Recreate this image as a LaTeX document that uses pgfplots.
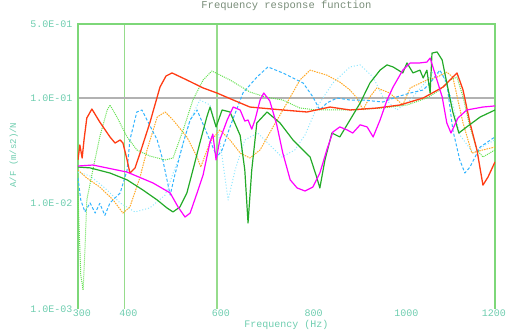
\documentclass[border=0pt]{standalone}
\usepackage{pgfplots}
\pgfplotsset{compat=1.18}
\usepackage{fontspec}
\setmainfont{Liberation Mono}
\definecolor{frm}{RGB}{125,215,120}
\definecolor{grd}{RGB}{150,220,140}
\definecolor{lab}{RGB}{110,205,175}
\definecolor{ttl}{RGB}{120,140,120}
\definecolor{cred}{RGB}{255,60,20}
\definecolor{cgrn}{RGB}{35,170,40}
\definecolor{cmag}{RGB}{255,0,255}
\definecolor{clgr}{RGB}{100,225,80}
\definecolor{cblu}{RGB}{50,180,255}
\definecolor{corg}{RGB}{255,170,40}
\definecolor{ccya}{RGB}{140,230,255}
\begin{document}
\begin{tikzpicture}
\begin{axis}[at={(0,0)}, anchor=south west, scale only axis,
  width=417pt, height=285pt,
  xmin=300, xmax=1200, ymode=log, ymin=1e-3, ymax=0.5,
  xtick={300,400,600,800,1000},
  xticklabels={300,400,600,800,1000},
  extra x ticks={1200},
  extra x tick labels={1200},
  extra x tick style={xticklabel style={xshift=-5pt}},
  ytick={1e-3,1e-2,1e-1,0.5},
  yticklabels={1.0E-03,1.0E-02,1.0E-01,5.0E-01},
  major tick length=0pt, minor tick length=0pt,
  axis line style={draw=none},
  tick style={draw=none},
  ticklabel style={font=\fontsize{10}{12}\selectfont, text=lab},
  xticklabel style={inner sep=1pt, xshift=4pt},
  yticklabel style={inner sep=1pt, xshift=-4.5pt},
  title={Frequency response function},
  title style={at={(rel axis cs:0.5,1)}, anchor=center, yshift=12pt,
    font=\fontsize{10.5}{12}\selectfont, text=ttl},
  xlabel={Frequency (Hz)},
  xlabel style={at={(rel axis cs:0.5,0)}, anchor=center, yshift=-16pt,
    font=\fontsize{10}{12}\selectfont, text=lab},
  ylabel={A/F (m/s2)/N},
  ylabel style={at={(rel axis cs:-0.154,0.54)}, anchor=center,
    font=\fontsize{9}{11}\selectfont, text=lab},
  clip mode=individual,
  every axis plot/.append style={mark=none, line join=round},
]
% grid and frame
\draw[grd, line width=1.6pt] (axis cs:400,1e-3) -- (axis cs:400,0.5);
\draw[grd, line width=1.6pt] (axis cs:600,1e-3) -- (axis cs:600,0.5);
\draw[gray!60, line width=2.2pt] (axis cs:300,0.1) -- (axis cs:1200,0.1);
\draw[frm, line width=1.4pt] (rel axis cs:0,0) -- (rel axis cs:0,1) -- (rel axis cs:1,1) -- (rel axis cs:1,0);

% pale cyan dotted
\addplot[ccya, line width=1pt, dotted] coordinates {
(300,0.0198) (326,0.0182) (358,0.014) (391,0.0101) (423,0.0083) (455,0.00906)
(488,0.0120) (516,0.0258) (542,0.0617) (563,0.0953) (585,0.0855) (606,0.0399)
(624,0.01077) (639,0.0207) (660,0.0399) (688,0.0464) (714,0.0357) (740,0.0275)
(768,0.0321) (790,0.0445) (816,0.0818) (850,0.138) (887,0.196) (909,0.205)
(937,0.157) (958,0.102) (988,0.0767) (1017,0.0953) (1045,0.132) (1066,0.175)
(1088,0.164) (1107,0.0953) (1124,0.0445) (1153,0.030) (1179,0.0357) (1200,0.0399)};

% orange dotted
\addplot[corg, line width=1pt, dash pattern=on 1.5pt off 1pt] coordinates {
(300,0.0207) (319,0.0174) (347,0.0143) (376,0.01077) (397,0.0081) (412,0.00925)
(434,0.0178) (449,0.0321) (471,0.0658) (488,0.0734) (505,0.0617) (535,0.0426)
(557,0.0275) (565,0.0221) (585,0.0382) (606,0.0496) (628,0.0399) (650,0.030)
(671,0.0269) (693,0.0321) (721,0.053) (751,0.0893) (779,0.1475) (801,0.183)
(837,0.164) (865,0.141) (887,0.1186) (902,0.0996) (915,0.0767) (930,0.102)
(945,0.124) (973,0.111) (1001,0.0855) (1017,0.124) (1053,0.1475) (1075,0.157)
(1096,0.175) (1109,0.157) (1131,0.0578) (1150,0.030) (1174,0.0321) (1200,0.0342)};

% blue dashed
\addplot[cblu, line width=1pt, dash pattern=on 3pt off 2pt] coordinates {
(300,0.0174) (306,0.01077) (315,0.0083) (326,0.0101) (337,0.0081) (347,0.01)
(358,0.0077) (369,0.0101) (391,0.01256) (406,0.0207) (412,0.0399) (427,0.0734)
(438,0.0767) (449,0.0617) (471,0.0399) (483,0.0258) (499,0.0120) (509,0.0186)
(527,0.0373) (542,0.0617) (557,0.0767) (578,0.0464) (600,0.0275) (611,0.0321)
(628,0.053) (656,0.111) (686,0.157) (710,0.196) (742,0.172) (786,0.138)
(807,0.102) (822,0.0767) (837,0.0893) (859,0.0996) (887,0.0953) (915,0.0953)
(958,0.0912) (988,0.102) (1017,0.111) (1045,0.1186) (1060,0.138) (1081,0.183)
(1096,0.138) (1109,0.0496) (1124,0.0258) (1135,0.0194) (1146,0.0221) (1168,0.0342)
(1200,0.0426)};

% light green dotted
\addplot[clgr, line width=1pt, densely dotted] coordinates {
(300,0.0120) (306,0.0021) (311,0.00151) (315,0.00362) (319,0.01077) (332,0.0207)
(347,0.0426) (363,0.0767) (369,0.0855) (384,0.0658) (406,0.0426) (427,0.0321)
(455,0.0281) (488,0.0258) (505,0.0269) (527,0.0496) (548,0.0953) (570,0.1475)
(589,0.1795) (628,0.1475) (671,0.1135) (704,0.102) (742,0.0953) (779,0.080)
(816,0.0767) (887,0.0767) (958,0.080) (1010,0.0855) (1053,0.0996) (1081,0.1186)
(1103,0.1475) (1118,0.157) (1131,0.102) (1146,0.053) (1161,0.0321) (1174,0.0275)
(1200,0.0321)};

% red solid
\addplot[cred, line width=1.3pt] coordinates {
(300,0.0258) (304,0.0357) (309,0.0269) (313,0.0399) (319,0.0644) (330,0.0783)
(347,0.059) (369,0.0426) (380,0.0373) (391,0.0399) (397,0.0373) (406,0.0258)
(412,0.0194) (423,0.0216) (434,0.030) (455,0.0578) (477,0.1265) (490,0.161)
(503,0.172) (535,0.1475) (570,0.124) (600,0.111) (635,0.0953) (671,0.0818)
(742,0.0767) (794,0.0734) (844,0.0818) (887,0.0767) (945,0.080) (995,0.0855)
(1045,0.0996) (1088,0.1265) (1118,0.172) (1131,0.1186) (1146,0.0578) (1161,0.0321)
(1174,0.0149) (1185,0.0178) (1200,0.0247)};

% green solid
\addplot[cgrn, line width=1.2pt] coordinates {
(300,0.0221) (326,0.0217) (369,0.0194) (406,0.0167) (440,0.0134) (471,0.01077)
(492,0.00906) (505,0.0083) (520,0.00925) (535,0.01256) (548,0.0207) (563,0.0373)
(578,0.0658) (585,0.0818) (598,0.053) (611,0.0767) (628,0.0734) (650,0.0440)
(660,0.0207) (667,0.00653) (675,0.0207) (686,0.0578) (708,0.0734) (736,0.0578)
(764,0.0399) (779,0.0342) (801,0.0275) (815,0.0178) (822,0.0140) (833,0.0258)
(848,0.0464) (865,0.0426) (887,0.0617) (909,0.0893) (930,0.138) (952,0.183)
(967,0.205) (980,0.196) (1001,0.172) (1010,0.214) (1023,0.172) (1038,0.183)
(1045,0.154) (1053,0.183) (1060,0.111) (1064,0.265) (1075,0.272) (1086,0.228)
(1096,0.138) (1109,0.0734) (1122,0.0464) (1139,0.053) (1168,0.0658) (1200,0.0767)};

% magenta solid
\addplot[cmag, line width=1.2pt] coordinates {
(300,0.0226) (332,0.0231) (406,0.0198) (462,0.0156) (499,0.01256) (516,0.00925)
(531,0.00743) (542,0.0081) (557,0.01256) (570,0.0186) (585,0.0382) (591,0.0454)
(598,0.0258) (606,0.0399) (622,0.0617) (635,0.0818) (650,0.0767) (660,0.0602)
(667,0.0617) (675,0.0505) (682,0.0617) (693,0.0953) (701,0.111) (714,0.0933)
(729,0.0555) (742,0.030) (758,0.0167) (773,0.014) (790,0.0131) (807,0.0143)
(822,0.0194) (837,0.0321) (850,0.0474) (865,0.053) (881,0.0496) (893,0.0464)
(909,0.0555) (924,0.053) (937,0.0426) (952,0.0617) (967,0.0953) (980,0.1265)
(1001,0.183) (1017,0.214) (1038,0.214) (1053,0.218) (1060,0.238) (1070,0.172)
(1086,0.102) (1096,0.0578) (1105,0.0464) (1120,0.0644) (1139,0.0767) (1174,0.0818)
(1200,0.0838)};
\end{axis}
\pgfresetboundingbox
\path[use as bounding box] (-78pt,-21pt) rectangle (429pt,309pt);
\end{tikzpicture}
\end{document}
